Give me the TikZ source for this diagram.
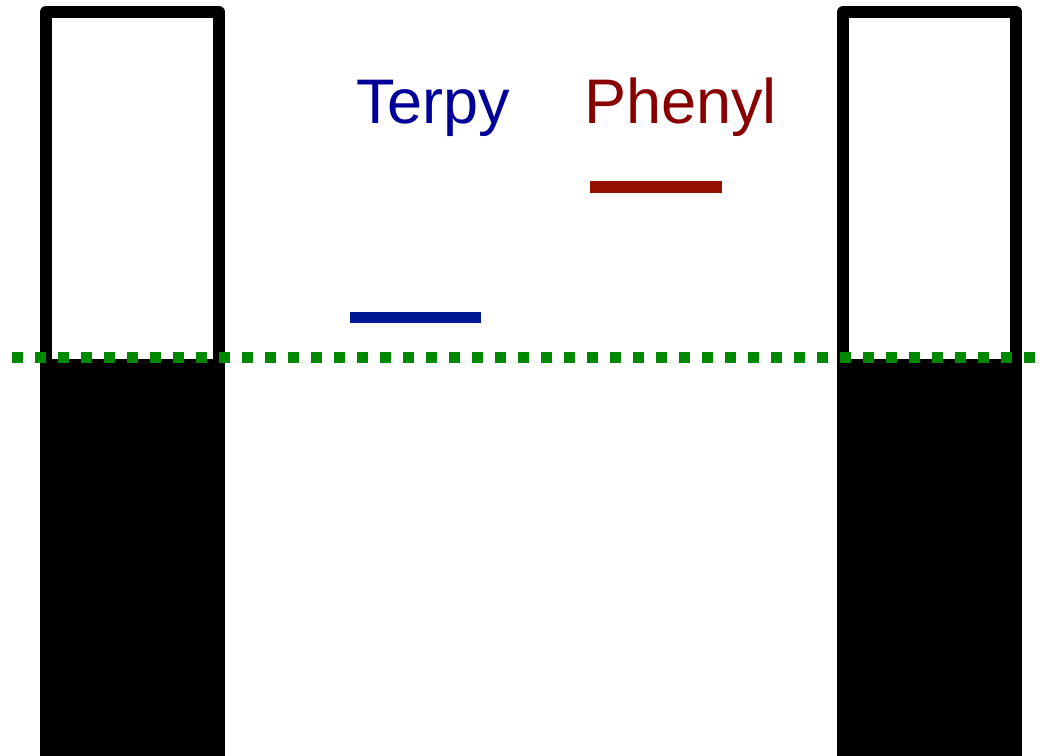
\documentclass[tikz,border=0pt]{standalone}
\usepackage{fontspec}
\setmainfont{Liberation Sans}
\definecolor{terpyblue}{HTML}{000099}
\definecolor{terpyline}{HTML}{001A96}
\definecolor{phenylred}{HTML}{880000}
\definecolor{phenylline}{HTML}{941100}
\definecolor{fermigreen}{HTML}{008800}
\tikzset{
  electrode/.style={line width=12pt, line join=round, line cap=round},
  level/.style={line width=11.5pt},
  label/.style={inner sep=0pt, anchor=base west, font=\fontsize{63}{68}\selectfont},
  fermi/.style={fermigreen, line width=11pt, dash pattern=on 11pt off 12pt},
}
\begin{document}
\begin{tikzpicture}[x=1pt,y=-1pt]
  \useasboundingbox (0,0) rectangle (1046,755);
  % left electrode: filled below the Fermi level
  \fill[black] (40,359) rectangle (225,760);
  \draw[electrode] (46,365) -- (46,12) -- (219,12) -- (219,365);
  % right electrode
  \fill[black] (837,359) rectangle (1022,760);
  \draw[electrode] (843,365) -- (843,12) -- (1016,12) -- (1016,365);
  % molecular levels
  \draw[level, terpyline] (350,317.5) -- (481,317.5);
  \draw[level, phenylline] (590,187) -- (722,187);
  % labels
  \node[label, text=terpyblue] (terpy) at (356,123) {Terpy};
  \node[label, text=phenylred] (phenyl) at (584,123) {Phenyl};
  % Fermi level
  \draw[fermi] (12,357.5) -- (1055,357.5);
\end{tikzpicture}
\end{document}
